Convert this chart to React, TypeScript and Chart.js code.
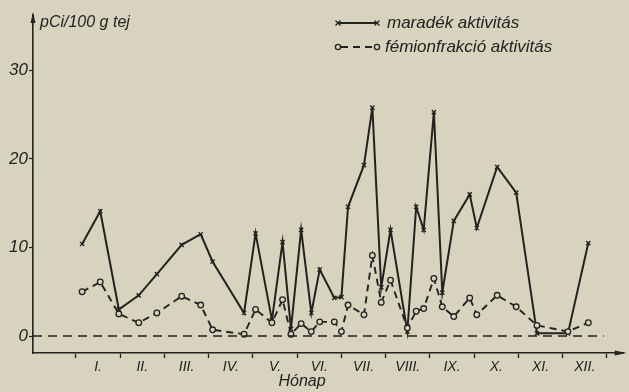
import React, { useEffect, useRef } from "react";
import { Chart, registerables } from "chart.js";

Chart.register(...registerables);

// ---- data ----
const monthLabels = ["I.", "II.", "III.", "IV.", "V.", "VI.", "VII.", "VIII.", "IX.", "X.", "XI.", "XII."];
const yTickValues = [0, 10, 20, 30];
const seriesNames = ["maradék aktivitás", "fémionfrakció aktivitás"];
const yTitle = "pCi/100 g tej";
const xTitle = "Hónap";

// sampling positions in months (0 = start of January)
const samplePositions = [
  0.14, 0.55, 0.97, 1.42, 1.83, 2.39, 2.82, 3.09, 3.8, 4.06, 4.43, 4.67, 4.86, 5.09, 5.32, 5.51, 5.84, 6.0,
  6.15, 6.51, 6.7, 6.9, 7.11, 7.49, 7.69, 7.86, 8.09, 8.28, 8.54, 8.9, 9.06, 9.52, 9.95, 10.42, 11.12, 11.58,
];
const maradek = [
  10.4, 14.1, 3.0, 4.6, 7.0, 10.3, 11.5, 8.4, 2.6, 11.6, 1.8, 10.6, 0.8, 12.0, 2.6, 7.5, 4.3, 4.4,
  14.6, 19.3, 25.8, 5.5, 12.0, 0.5, 14.6, 12.0, 25.3, 4.9, 13.0, 16.0, 12.2, 19.1, 16.2, 0.3, 0.3, 10.5,
];
const femion = [
  5.0, 6.1, 2.5, 1.5, 2.6, 4.5, 3.5, 0.7, 0.2, 3.0, 1.5, 4.1, 0.2, 1.4, 0.5, 1.6, 1.6, 0.5,
  3.5, 2.4, 9.1, 3.8, 6.3, 0.9, 2.8, 3.1, 6.5, 3.3, 2.2, 4.3, 2.4, 4.6, 3.3, 1.2, 0.5, 1.5,
];
const zeroLineRange = [-0.97, 11.93];

const INK = "#22221e";
const BG = "#d7d3bf";
const FONT = '"Liberation Sans", Arial, sans-serif';

export default function App() {
  const ref = useRef<HTMLCanvasElement | null>(null);

  useEffect(() => {
    document.body.style.margin = "0";
    document.body.style.background = BG;
    const canvas = ref.current!;
    const toPts = (vals: number[]) => vals.map((v, i) => ({ x: samplePositions[i], y: v }));

    const decor = {
      id: "decor",
      beforeDraw(chart: any) {
        const c = chart.ctx;
        c.save();
        c.fillStyle = BG;
        c.fillRect(0, 0, chart.width, chart.height);
        c.restore();
      },
      afterDraw(chart: any) {
        const c = chart.ctx;
        const { left, right, top, bottom } = chart.chartArea;
        c.save();
        c.fillStyle = INK;
        c.strokeStyle = INK;
        // arrows
        c.beginPath();
        c.moveTo(left, top - 3);
        c.lineTo(left - 2.5, top + 8);
        c.lineTo(left + 2.5, top + 8);
        c.closePath();
        c.fill();
        c.beginPath();
        c.moveTo(right + 3, bottom);
        c.lineTo(right - 9, bottom - 2.5);
        c.lineTo(right - 9, bottom + 2.5);
        c.closePath();
        c.fill();
        // titles
        c.font = `italic 16px ${FONT}`;
        c.textBaseline = "middle";
        c.textAlign = "left";
        c.fillText(yTitle, left + 7, top + 8);
        c.textAlign = "center";
        c.fillText(xTitle, 302, 382);
        // legend
        const lx0 = 338, lx1 = 377;
        const ly = [23, 47];
        c.lineWidth = 1.8;
        c.beginPath();
        c.moveTo(lx0, ly[0]);
        c.lineTo(lx1, ly[0]);
        c.stroke();
        const cross = (x: number, y: number) => {
          c.beginPath();
          c.moveTo(x - 2.5, y - 2.5);
          c.lineTo(x + 2.5, y + 2.5);
          c.moveTo(x + 2.5, y - 2.5);
          c.lineTo(x - 2.5, y + 2.5);
          c.lineWidth = 1.3;
          c.stroke();
        };
        cross(lx0, ly[0]);
        cross(lx1, ly[0]);
        c.lineWidth = 1.8;
        c.setLineDash([7, 5]);
        c.beginPath();
        c.moveTo(lx0 + 3, ly[1]);
        c.lineTo(lx1 - 3, ly[1]);
        c.stroke();
        c.setLineDash([]);
        c.lineWidth = 1.3;
        c.fillStyle = BG;
        [lx0, lx1].forEach((x) => {
          c.beginPath();
          c.arc(x, ly[1], 2.6, 0, Math.PI * 2);
          c.fill();
          c.stroke();
        });
        c.fillStyle = INK;
        c.font = `italic 17px ${FONT}`;
        c.textAlign = "left";
        c.fillText(seriesNames[0], 387, ly[0]);
        c.fillText(seriesNames[1], 385, ly[1]);
        c.restore();
      },
    };

    const chart = new Chart(canvas, {
      type: "scatter",
      data: {
        datasets: [
          {
            label: "zero",
            data: zeroLineRange.map((x) => ({ x, y: 0 })),
            showLine: true,
            borderColor: INK,
            borderWidth: 1.5,
            borderDash: [9, 6],
            pointRadius: 0,
          },
          {
            label: seriesNames[1],
            data: toPts(femion),
            showLine: true,
            borderColor: INK,
            borderWidth: 1.9,
            borderDash: [7, 5],
            pointStyle: "circle",
            pointRadius: 2.8,
            pointBorderWidth: 1.3,
            pointBackgroundColor: BG,
            pointBorderColor: INK,
          },
          {
            label: seriesNames[0],
            data: toPts(maradek),
            showLine: true,
            borderColor: INK,
            borderWidth: 2,
            pointStyle: "crossRot",
            pointRadius: 3,
            pointBorderWidth: 1.3,
            pointBorderColor: INK,
          },
        ],
      },
      options: {
        responsive: false,
        animation: false,
        devicePixelRatio: 1,
        layout: { padding: { top: 15, right: 4, left: 0, bottom: 0 } },
        plugins: { legend: { display: false }, tooltip: { enabled: false } },
        scales: {
          x: {
            type: "linear",
            min: -0.97,
            max: 12.38,
            afterFit: (s: any) => {
              s.height = 39;
            },
            afterBuildTicks: (s: any) => {
              const t: any[] = [];
              for (let v = 0; v <= 24; v++) t.push({ value: v / 2 });
              s.ticks = t;
            },
            border: { display: true, color: INK, width: 1.6 },
            grid: {
              drawOnChartArea: false,
              drawTicks: true,
              tickLength: 5,
              tickWidth: 1.3,
              tickColor: (ctx: any) =>
                ctx.tick && Number.isInteger(ctx.tick.value) ? INK : "rgba(0,0,0,0)",
            },
            ticks: {
              autoSkip: false,
              maxRotation: 0,
              minRotation: 0,
              padding: 1,
              color: INK,
              font: { family: FONT, size: 14, style: "italic" },
              callback: (v: any) => {
                const n = Number(v);
                return n % 1 === 0.5 ? monthLabels[Math.floor(n)] : "";
              },
            },
          },
          y: {
            type: "linear",
            min: -1.92,
            max: 36.27,
            afterFit: (s: any) => {
              s.width = 33;
            },
            afterBuildTicks: (s: any) => {
              s.ticks = yTickValues.map((v) => ({ value: v }));
            },
            border: { display: true, color: INK, width: 1.6 },
            grid: { drawOnChartArea: false, tickLength: 4, tickWidth: 1.2, tickColor: INK },
            ticks: {
              padding: 1,
              color: INK,
              font: { family: FONT, size: 17, style: "italic" },
            },
          },
        },
      },
      plugins: [decor],
    } as any);
    return () => chart.destroy();
  }, []);

  return <canvas ref={ref} width={629} height={392} style={{ display: "block" }} />;
}
